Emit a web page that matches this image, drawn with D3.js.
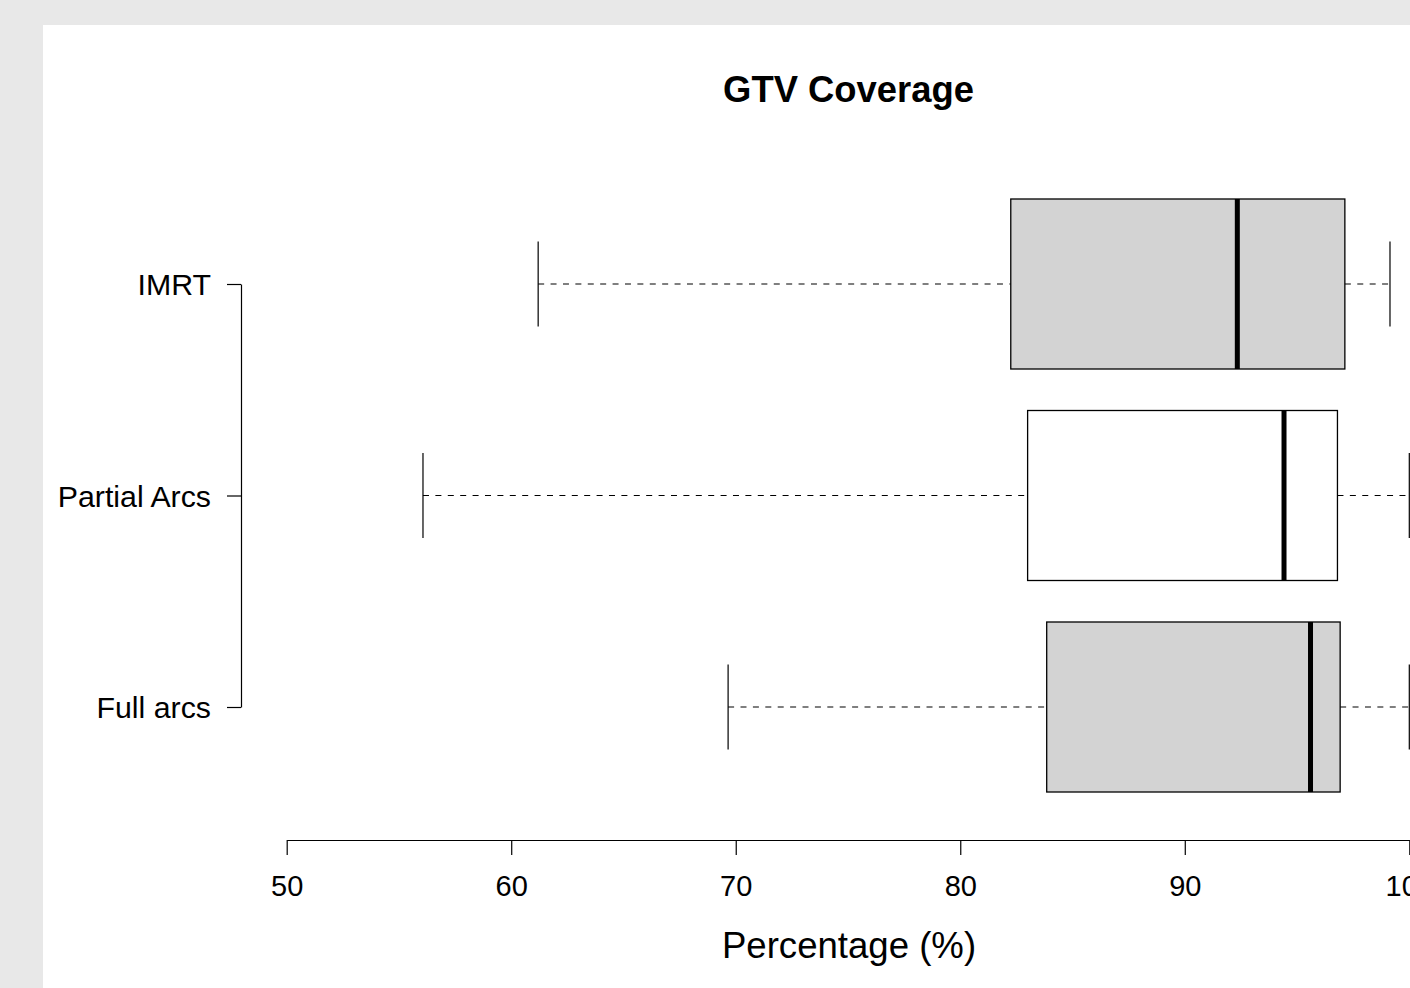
<!DOCTYPE html>
<html>
<head>
<meta charset="utf-8">
<script src="https://cdn.jsdelivr.net/npm/d3@7"></script>
<style>
  body { margin: 0; background: #e8e8e8; overflow: hidden; }
  svg { display: block; }
  text { font-family: "Liberation Sans", Arial, sans-serif; fill: #000; }
</style>
</head>
<body>
<svg id="chart" width="1410" height="988"></svg>
<script>
// data
var groups = ["IMRT", "Partial Arcs", "Full arcs"];
var whiskerLow = [61.2, 56.07, 69.66];
var q1 = [82.25, 83.0, 83.85];
var median = [92.34, 94.42, 95.6];
var q3 = [97.13, 96.8, 96.92];
var whiskerHigh = [99.14, 100, 100];
var boxFill = ["#d3d3d3", "#ffffff", "#d3d3d3"];
var xTicks = [50, 60, 70, 80, 90, 100];

var svg = d3.select("#chart");

svg.append("rect")
	.attr("x", 43)
	.attr("y", 25)
	.attr("width", 1500)
	.attr("height", 1000)
	.attr("fill", "#ffffff");

var x = d3.scaleLinear().domain([50, 100]).range([286.7, 1409.3]);
var y = d3.scalePoint().domain(groups).range([284, 707]);
var boxH = 170;
var stapleH = boxH / 2;

var rows = groups.map(function(g, i){
	return {name: g, lo: whiskerLow[i], q1: q1[i], med: median[i], q3: q3[i], hi: whiskerHigh[i], fill: boxFill[i]};
});

var box = svg.append("g").selectAll("g")
	.data(rows).enter()
	.append("g")
	.attr("transform", function(d){ return "translate(0," + y(d.name) + ")"; });

// dashed whiskers
box.append("line")
	.attr("x1", function(d){ return x(d.lo); })
	.attr("x2", function(d){ return x(d.q1); })
	.attr("stroke", "#000").attr("stroke-width", 1.1)
	.attr("stroke-dasharray", "6,6.4");
box.append("line")
	.attr("x1", function(d){ return x(d.q3); })
	.attr("x2", function(d){ return x(d.hi); })
	.attr("stroke", "#000").attr("stroke-width", 1.1)
	.attr("stroke-dasharray", "6,6.4");

// staples
box.append("line")
	.attr("x1", function(d){ return x(d.lo); })
	.attr("x2", function(d){ return x(d.lo); })
	.attr("y1", -stapleH / 2).attr("y2", stapleH / 2)
	.attr("stroke", "#000").attr("stroke-width", 1.2);
box.append("line")
	.attr("x1", function(d){ return x(d.hi); })
	.attr("x2", function(d){ return x(d.hi); })
	.attr("y1", -stapleH / 2).attr("y2", stapleH / 2)
	.attr("stroke", "#000").attr("stroke-width", 1.2);

box.append("rect")
	.attr("x", function(d){ return x(d.q1); })
	.attr("y", -boxH / 2)
	.attr("width", function(d){ return x(d.q3) - x(d.q1); })
	.attr("height", boxH)
	.attr("fill", function(d){ return d.fill; })
	.attr("stroke", "#000").attr("stroke-width", 1.3);

box.append("line")
	.attr("x1", function(d){ return x(d.med); })
	.attr("x2", function(d){ return x(d.med); })
	.attr("y1", -boxH / 2).attr("y2", boxH / 2)
	.attr("stroke", "#000").attr("stroke-width", 5);

// axes
var xAxis = svg.append("g")
	.attr("transform", "translate(0,840)")
	.call(d3.axisBottom(x).tickValues(xTicks).tickSize(15).tickSizeOuter(0).tickPadding(20));
var yAxis = svg.append("g")
	.attr("transform", "translate(241,0)")
	.call(d3.axisLeft(y).tickSize(14).tickSizeOuter(0).tickPadding(16));

[xAxis, yAxis].forEach(function(a){
	a.selectAll("path, line").attr("stroke", "#000").attr("stroke-width", 1.2);
	a.selectAll("text")
		.style("font-family", "'Liberation Sans', Arial, sans-serif")
		.attr("font-size", 29)
		.attr("fill", "#000");
});
yAxis.selectAll("text").attr("font-size", 30.3).attr("dy", "0.36em");

svg.append("text")
	.attr("x", 848.5)
	.attr("y", 102)
	.attr("text-anchor", "middle")
	.attr("font-size", 36.4)
	.attr("font-weight", "bold")
	.text("GTV Coverage");

svg.append("text")
	.attr("x", 849)
	.attr("y", 958)
	.attr("text-anchor", "middle")
	.attr("font-size", 36.6)
	.text("Percentage (%)");
</script>
</body>
</html>
